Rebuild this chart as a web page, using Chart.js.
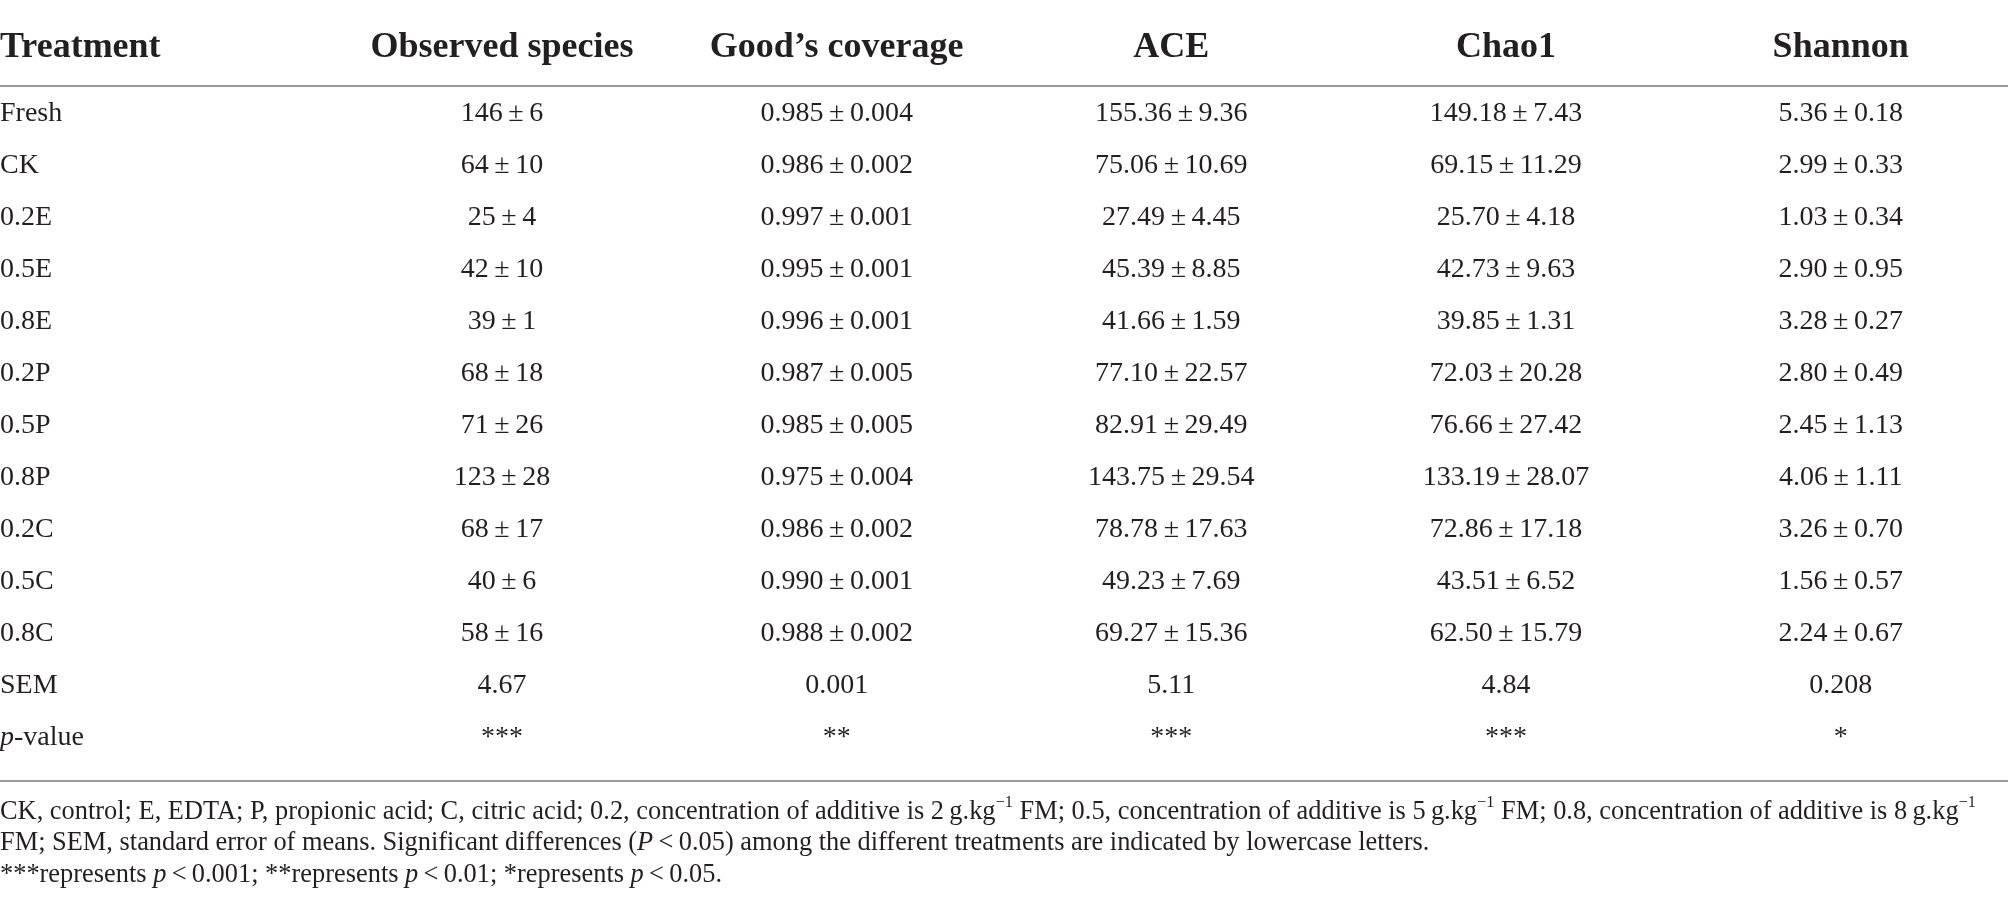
<!DOCTYPE html>
<html>
<head>
<meta charset="utf-8">
<script src="https://cdn.jsdelivr.net/npm/chart.js@4.4.1/dist/chart.umd.min.js"></script>
<style>
  html, body { margin: 0; background: #fff; }
  #tabela { display: block; }
</style>
</head>
<body>
<canvas id="tabela" width="2008" height="915"></canvas>
<script>
// Dados da tabela
const colunas = ['Treatment', 'Observed species', 'Good\u2019s coverage', 'ACE', 'Chao1', 'Shannon'];
const tratamentos = ['Fresh', 'CK', '0.2E', '0.5E', '0.8E', '0.2P', '0.5P', '0.8P', '0.2C', '0.5C', '0.8C'];

const especiesObs = [146, 64, 25, 42, 39, 68, 71, 123, 68, 40, 58];
const especiesObsErro = [6, 10, 4, 10, 1, 18, 26, 28, 17, 6, 16];
const cobertura = [0.985, 0.986, 0.997, 0.995, 0.996, 0.987, 0.985, 0.975, 0.986, 0.990, 0.988];
const coberturaErro = [0.004, 0.002, 0.001, 0.001, 0.001, 0.005, 0.005, 0.004, 0.002, 0.001, 0.002];
const ace = [155.36, 75.06, 27.49, 45.39, 41.66, 77.10, 82.91, 143.75, 78.78, 49.23, 69.27];
const aceErro = [9.36, 10.69, 4.45, 8.85, 1.59, 22.57, 29.49, 29.54, 17.63, 7.69, 15.36];
const chao1 = [149.18, 69.15, 25.70, 42.73, 39.85, 72.03, 76.66, 133.19, 72.86, 43.51, 62.50];
const chao1Erro = [7.43, 11.29, 4.18, 9.63, 1.31, 20.28, 27.42, 28.07, 17.18, 6.52, 15.79];
const shannon = [5.36, 2.99, 1.03, 2.90, 3.28, 2.80, 2.45, 4.06, 3.26, 1.56, 2.24];
const shannonErro = [0.18, 0.33, 0.34, 0.95, 0.27, 0.49, 1.13, 1.11, 0.70, 0.57, 0.67];

const semValores = ['4.67', '0.001', '5.11', '4.84', '0.208'];
const valoresP = ['***', '**', '***', '***', '*'];
const casasDecimais = [0, 3, 2, 2, 2];

const FONTE = '"Liberation Serif", "DejaVu Serif", serif';
const COR_TEXTO = '#231f20';
const TS = '\u2009'; // espaço fino

// Posições (em unidades da escala) das linhas especiais
const LINHA_CABECALHO = -1.27;
const REGRA_TOPO = -0.54;
const REGRA_BASE = 12.82;
const NOTAS = [13.42, 14.02, 14.63];

const medias = [especiesObs, cobertura, ace, chao1, shannon];
const erros = [especiesObsErro, coberturaErro, aceErro, chao1Erro, shannonErro];

function formatar(v, casas) {
    return v.toFixed(casas);
}

// Monta os datasets: um por coluna de métrica + rótulos das linhas + cabeçalho
const datasets = [];

datasets.push({
    label: 'cabecalho',
    data: colunas.map((c, i) => ({ x: i === 0 ? -0.5 : i, y: LINHA_CABECALHO, texto: c })),
    tipo: 'cabecalho'
});

const rotulosLinhas = tratamentos.concat(['SEM', 'p-value']);
datasets.push({
    label: 'rotulos',
    data: rotulosLinhas.map((r, i) => ({ x: -0.5, y: i, texto: r })),
    tipo: 'rotulo'
});

for (let c = 0; c < medias.length; c++) {
    const pontos = medias[c].map((m, i) => ({
        x: c + 1,
        y: i,
        texto: formatar(m, casasDecimais[c]) + TS + '\u00b1' + TS + formatar(erros[c][i], casasDecimais[c])
    }));
    pontos.push({ x: c + 1, y: tratamentos.length, texto: semValores[c] });
    pontos.push({ x: c + 1, y: tratamentos.length + 1, texto: valoresP[c] });
    datasets.push({ label: colunas[c + 1], data: pontos, tipo: 'valor' });
}

datasets.forEach(d => {
    d.pointRadius = 0;
    d.pointHoverRadius = 0;
    d.showLine = false;
});

// Desenha texto com partes em itálico / sobrescrito
function desenharRico(ctx, partes, x, y, tamanho, peso) {
    let cx = x;
    partes.forEach(p => {
        const t = p.sup ? tamanho * 0.62 : tamanho;
        ctx.font = (p.i ? 'italic ' : '') + (peso || '') + ' ' + t + 'px ' + FONTE;
        const dy = p.sup ? -tamanho * 0.36 : 0;
        ctx.fillText(p.t, cx, y + dy);
        cx += ctx.measureText(p.t).width;
    });
    return cx - x;
}

function larguraRica(ctx, partes, tamanho) {
    let w = 0;
    partes.forEach(p => {
        const t = p.sup ? tamanho * 0.62 : tamanho;
        ctx.font = (p.i ? 'italic ' : '') + t + 'px ' + FONTE;
        w += ctx.measureText(p.t).width;
    });
    return w;
}

const notas = [
    [
        { t: 'CK, control; E, EDTA; P, propionic acid; C, citric acid; 0.2, concentration of additive is 2' + TS + 'g.kg' },
        { t: '\u22121', sup: true },
        { t: ' FM; 0.5, concentration of additive is 5' + TS + 'g.kg' },
        { t: '\u22121', sup: true },
        { t: ' FM; 0.8, concentration of additive is 8' + TS + 'g.kg' },
        { t: '\u22121', sup: true }
    ],
    [
        { t: 'FM; SEM, standard error of means. Significant differences (' },
        { t: 'P', i: true },
        { t: TS + '<' + TS + '0.05) among the different treatments are indicated by lowercase letters.' }
    ],
    [
        { t: '***represents ' },
        { t: 'p', i: true },
        { t: TS + '<' + TS + '0.001; **represents ' },
        { t: 'p', i: true },
        { t: TS + '<' + TS + '0.01; *represents ' },
        { t: 'p', i: true },
        { t: TS + '<' + TS + '0.05.' }
    ]
];

const pluginTabela = {
    id: 'pluginTabela',
    afterDatasetsDraw(chart) {
        const ctx = chart.ctx;
        const area = chart.chartArea;
        const escalaY = chart.scales.y;
        ctx.save();
        ctx.fillStyle = COR_TEXTO;
        ctx.textBaseline = 'middle';

        chart.data.datasets.forEach((ds, di) => {
            const meta = chart.getDatasetMeta(di);
            meta.data.forEach((el, i) => {
                const item = ds.data[i];
                if (ds.tipo === 'cabecalho') {
                    ctx.font = 'bold 36px ' + FONTE;
                    ctx.textAlign = item.x < 0 ? 'left' : 'center';
                    ctx.fillText(item.texto, el.x, el.y);
                } else if (ds.tipo === 'rotulo') {
                    ctx.textAlign = 'left';
                    if (item.texto === 'p-value') {
                        desenharRico(ctx, [{ t: 'p', i: true }, { t: '-value' }], el.x, el.y, 28);
                    } else {
                        ctx.font = '28px ' + FONTE;
                        ctx.fillText(item.texto, el.x, el.y);
                    }
                } else {
                    ctx.font = '28px ' + FONTE;
                    ctx.textAlign = 'center';
                    ctx.fillText(item.texto, el.x, el.y);
                }
            });
        });

        // Regras horizontais
        ctx.strokeStyle = '#9a9a9a';
        ctx.lineWidth = 2;
        [REGRA_TOPO, REGRA_BASE].forEach(v => {
            const y = Math.round(escalaY.getPixelForValue(v));
            ctx.beginPath();
            ctx.moveTo(area.left, y);
            ctx.lineTo(area.right, y);
            ctx.stroke();
        });

        // Notas de rodapé (tamanho ajustado para a largura da primeira linha)
        ctx.textAlign = 'left';
        let tam = 25;
        const alvo = 1977 - area.left;
        tam = tam * alvo / larguraRica(ctx, notas[0], tam);
        notas.forEach((partes, i) => {
            desenharRico(ctx, partes, area.left, escalaY.getPixelForValue(NOTAS[i]), tam);
        });
        ctx.restore();
    }
};

const ctx = document.getElementById('tabela').getContext('2d');
const tabela = new Chart(ctx, {
    type: 'scatter',
    data: { datasets: datasets },
    options: {
        responsive: false,
        animation: false,
        devicePixelRatio: 1,
        layout: { padding: 0 },
        plugins: {
            legend: { display: false },
            tooltip: { enabled: false }
        },
        scales: {
            x: { type: 'linear', min: -0.5, max: 5.5, display: false },
            y: { type: 'linear', reverse: true, min: -114 / 52, max: (915 - 114) / 52, display: false }
        }
    },
    plugins: [pluginTabela]
});
</script>
</body>
</html>
